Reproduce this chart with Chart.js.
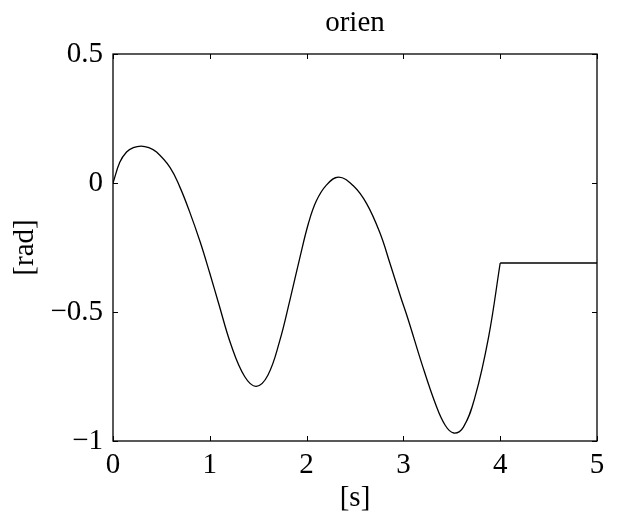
<!DOCTYPE html>
<html>
<head>
<meta charset="utf-8">
<script src="https://cdn.jsdelivr.net/npm/chart.js@4/dist/chart.umd.min.js"></script>
<style>
  html, body { margin: 0; padding: 0; background: #fff; }
  #wrap { width: 618px; height: 517px; }
</style>
</head>
<body>
<div id="wrap"><canvas id="c" width="618" height="517"></canvas></div>
<script>
// time samples [s] and orientation [rad]
const timeS = [0, 0.07, 0.14, 0.21, 0.29, 0.37, 0.45, 0.59, 0.69, 0.79, 0.90, 1.00, 1.09, 1.22, 1.36, 1.48, 1.60, 1.72, 1.83, 1.93, 2.02, 2.10, 2.20, 2.33, 2.48, 2.62, 2.76, 2.86, 2.97, 3.05, 3.19, 3.33, 3.43, 3.52, 3.62, 3.74, 3.88, 4.00, 5.00];
const orienRad = [0, 0.08, 0.12, 0.137, 0.143, 0.137, 0.12, 0.06, -0.015, -0.11, -0.228, -0.35, -0.465, -0.628, -0.75, -0.788, -0.745, -0.615, -0.45, -0.29, -0.155, -0.07, -0.01, 0.023, -0.01, -0.08, -0.196, -0.31, -0.44, -0.53, -0.70, -0.855, -0.938, -0.969, -0.946, -0.829, -0.597, -0.31, -0.31];
// the signal is held constant from this time on
const holdTime = 4.0;

const xTicks = [0, 1, 2, 3, 4, 5];
const xTickLabels = ['0', '1', '2', '3', '4', '5'];
const yTicks = [-1, -0.5, 0, 0.5];
const yTickLabels = ['\u22121', '\u22120.5', '0', '0.5'];

const FONT = "'Liberation Serif', 'Times New Roman', serif";

const moving = [], held = [];
timeS.forEach((t, i) => {
  if (t <= holdTime) moving.push({ x: t, y: orienRad[i] });
  if (t >= holdTime) held.push({ x: t, y: orienRad[i] });
});

// box frame with inward tick marks on all four sides
const framePlugin = {
  id: 'frame',
  afterDatasetsDraw(chart) {
    const { ctx, chartArea: a, scales } = chart;
    const len = 5;
    ctx.save();
    ctx.strokeStyle = '#000';
    ctx.lineWidth = 1;
    ctx.beginPath();
    xTicks.forEach(v => {
      const px = Math.round(scales.x.getPixelForValue(v)) + 0.5;
      ctx.moveTo(px, a.bottom); ctx.lineTo(px, a.bottom - len);
      ctx.moveTo(px, a.top); ctx.lineTo(px, a.top + len);
    });
    yTicks.forEach(v => {
      const py = Math.round(scales.y.getPixelForValue(v)) + 0.5;
      ctx.moveTo(a.left, py); ctx.lineTo(a.left + len, py);
      ctx.moveTo(a.right, py); ctx.lineTo(a.right - len, py);
    });
    ctx.stroke();
    ctx.lineWidth = 1.3;
    ctx.strokeRect(a.left, a.top, a.right - a.left, a.bottom - a.top);
    ctx.restore();
  }
};

new Chart(document.getElementById('c'), {
  type: 'line',
  data: {
    datasets: [
      { data: moving, borderColor: '#000', borderWidth: 1.3, pointRadius: 0, fill: false, tension: 0.4 },
      { data: held, borderColor: '#000', borderWidth: 1.3, pointRadius: 0, fill: false, tension: 0 }
    ]
  },
  options: {
    responsive: false,
    animation: false,
    events: [],
    layout: { padding: { left: 0, right: 21, top: 0, bottom: 0 } },
    plugins: {
      legend: { display: false },
      tooltip: { enabled: false },
      title: {
        display: true,
        text: 'orien',
        fullSize: false,
        color: '#000',
        font: { family: FONT, size: 29, weight: 'normal', lineHeight: 1.2 },
        padding: { top: 6, bottom: 13.2 }
      }
    },
    scales: {
      x: {
        type: 'linear',
        min: 0, max: 5,
        afterBuildTicks: s => { s.ticks = xTicks.map(v => ({ value: v })); },
        afterFit: s => { s.height = 76; },
        grid: { display: false, drawTicks: false },
        border: { display: false },
        ticks: {
          color: '#000',
          padding: 7,
          maxRotation: 0,
          font: { family: FONT, size: 29, lineHeight: 1.2 },
          callback: (v) => xTickLabels[xTicks.indexOf(v)]
        },
        title: {
          display: true, text: '[s]', color: '#000',
          font: { family: FONT, size: 29, lineHeight: 1.2 },
          padding: { top: 0, bottom: 1 }
        }
      },
      y: {
        type: 'linear',
        min: -1, max: 0.5,
        afterBuildTicks: s => { s.ticks = yTicks.map(v => ({ value: v })); },
        afterFit: s => { s.width = 113; },
        grid: { display: false, drawTicks: false },
        border: { display: false },
        ticks: {
          color: '#000',
          padding: 10,
          font: { family: FONT, size: 29, lineHeight: 1.2 },
          callback: (v) => yTickLabels[yTicks.indexOf(v)]
        },
        title: {
          display: true, text: '[rad]', color: '#000',
          font: { family: FONT, size: 29, lineHeight: 1.2 },
          padding: { top: 8, bottom: 0 }
        }
      }
    }
  },
  plugins: [framePlugin]
});
</script>
</body>
</html>
